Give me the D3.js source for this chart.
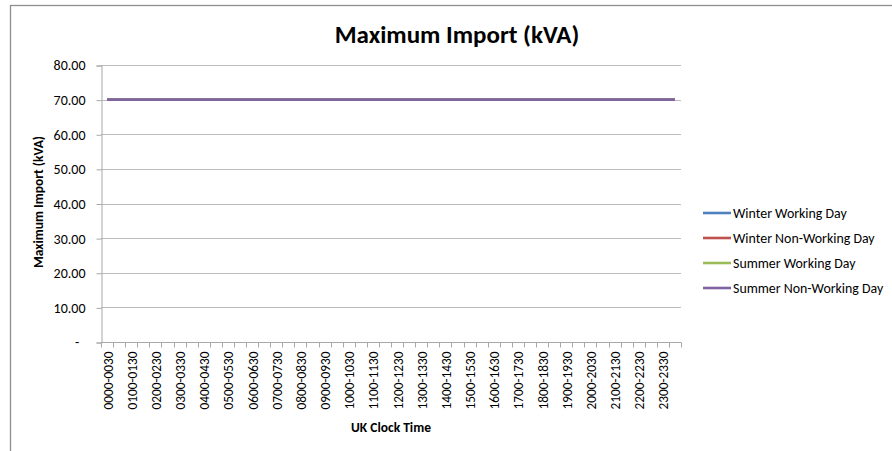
<!DOCTYPE html>
<meta charset="UTF-8">
<script src="https://d3js.org/d3.v7.min.js"></script>
<style>
  body { margin: 0; background: #fff; }
  text { font-family: Carlito, Calibri, Lato, sans-serif; fill: #000; }
</style>
<div id="my_dataviz"></div>
<script>

// half hour slots, Excel only prints every second one
var slots = ["0000-0030","0030-0100","0100-0130","0130-0200","0200-0230","0230-0300",
  "0300-0330","0330-0400","0400-0430","0430-0500","0500-0530","0530-0600",
  "0600-0630","0630-0700","0700-0730","0730-0800","0800-0830","0830-0900",
  "0900-0930","0930-1000","1000-1030","1030-1100","1100-1130","1130-1200",
  "1200-1230","1230-1300","1300-1330","1330-1400","1400-1430","1430-1500",
  "1500-1530","1530-1600","1600-1630","1630-1700","1700-1730","1730-1800",
  "1800-1830","1830-1900","1900-1930","1930-2000","2000-2030","2030-2100",
  "2100-2130","2130-2200","2200-2230","2230-2300","2300-2330","2330-0000"];

var winterWorking    = [70,70,70,70,70,70,70,70,70,70,70,70,70,70,70,70,70,70,70,70,70,70,70,70,70,70,70,70,70,70,70,70,70,70,70,70,70,70,70,70,70,70,70,70,70,70,70,70];
var winterNonWorking = [70,70,70,70,70,70,70,70,70,70,70,70,70,70,70,70,70,70,70,70,70,70,70,70,70,70,70,70,70,70,70,70,70,70,70,70,70,70,70,70,70,70,70,70,70,70,70,70];
var summerWorking    = [70,70,70,70,70,70,70,70,70,70,70,70,70,70,70,70,70,70,70,70,70,70,70,70,70,70,70,70,70,70,70,70,70,70,70,70,70,70,70,70,70,70,70,70,70,70,70,70];
var summerNonWorking = [70,70,70,70,70,70,70,70,70,70,70,70,70,70,70,70,70,70,70,70,70,70,70,70,70,70,70,70,70,70,70,70,70,70,70,70,70,70,70,70,70,70,70,70,70,70,70,70];

var seriesNames = ["Winter Working Day", "Winter Non-Working Day", "Summer Working Day", "Summer Non-Working Day"];
var yTicks = [0, 10, 20, 30, 40, 50, 60, 70, 80];

var series = [
  {name: seriesNames[0], values: winterWorking,    color: "#4F81BD"},
  {name: seriesNames[1], values: winterNonWorking, color: "#C0504D"},
  {name: seriesNames[2], values: summerWorking,    color: "#9BBB59"},
  {name: seriesNames[3], values: summerNonWorking, color: "#8064A2"}
];

var width = 892, height = 451;
var margin = {top: 65, right: 211, bottom: 109, left: 101};   // plot area 101..681 x 65..342

var svg = d3.select("#my_dataviz")
  .append("svg")
    .attr("width", width)
    .attr("height", height);

// chart frame (runs off the right / bottom of the picture)
svg.append("rect")
  .attr("x", 10.5).attr("y", 5.5)
  .attr("width", 1000).attr("height", 600)
  .attr("fill", "none")
  .attr("stroke", "#8e8e8e")
  .attr("stroke-width", 1.3);

var x = d3.scaleBand()
  .domain(slots)
  .range([margin.left, width - margin.right]);

var y = d3.scaleLinear()
  .domain([0, 80])
  .range([height - margin.bottom, margin.top]);

// gridlines
svg.append("g")
  .selectAll("line")
  .data(yTicks.filter(function(d) { return d > 0; }))
  .enter()
  .append("line")
    .attr("x1", margin.left).attr("x2", width - margin.right)
    .attr("y1", function(d) { return Math.round(y(d)) + 0.5; })
    .attr("y2", function(d) { return Math.round(y(d)) + 0.5; })
    .attr("stroke", "#bcbcbc");

// y axis
var yAxis = svg.append("g")
  .attr("transform", "translate(" + (margin.left + 0.5) + ",0.5)")
  .call(d3.axisLeft(y)
    .tickValues(yTicks)
    .tickSize(5)
    .tickPadding(11)
    .tickFormat(function(d) { return d === 0 ? "-  " : d3.format(".2f")(d); }));
yAxis.select(".domain").attr("stroke", "#a8a8a8");
yAxis.selectAll(".tick line").attr("stroke", "#a8a8a8");
yAxis.selectAll(".tick text")
  .style("font-size", "14px")
  .attr("fill", "#000")
  .style("white-space", "pre");

// x axis: ticks on every slot boundary, labels on every second slot
var xAxisG = svg.append("g")
  .attr("transform", "translate(0," + (Math.round(y(0)) + 0.5) + ")");
xAxisG.append("line")
  .attr("x1", margin.left).attr("x2", width - margin.right)
  .attr("stroke", "#a8a8a8");
xAxisG.selectAll(".tk")
  .data(slots.concat(["end"]))
  .enter()
  .append("line")
    .attr("class", "tk")
    .attr("x1", function(d, i) { return Math.round(i < slots.length ? x(d) : width - margin.right) + 0.5; })
    .attr("x2", function(d, i) { return Math.round(i < slots.length ? x(d) : width - margin.right) + 0.5; })
    .attr("y1", 0).attr("y2", 5)
    .attr("stroke", "#a8a8a8");
xAxisG.selectAll(".lbl")
  .data(slots.filter(function(d, i) { return i % 2 === 0; }))
  .enter()
  .append("text")
    .attr("class", "lbl")
    .attr("transform", function(d) { return "translate(" + (x(d) + x.bandwidth() / 2 + 5.5) + ",9) rotate(-90)"; })
    .attr("text-anchor", "end")
    .style("font-size", "13.3px")
    .text(function(d) { return d; });

// lines
var line = d3.line()
  .x(function(d, i) { return x(slots[i]) + x.bandwidth() / 2; })
  .y(function(d) { return y(d); });

svg.append("g")
  .selectAll("path")
  .data(series)
  .enter()
  .append("path")
    .attr("fill", "none")
    .attr("stroke", function(d) { return d.color; })
    .attr("stroke-width", 2.6)
    .attr("d", function(d) { return line(d.values); });

// titles
svg.append("text")
  .attr("x", 457).attr("y", 43)
  .attr("text-anchor", "middle")
  .style("font-size", "25px")
  .style("font-weight", "bold")
  .text("Maximum Import (kVA)");

svg.append("text")
  .attr("transform", "translate(43,202) rotate(-90)")
  .attr("text-anchor", "middle")
  .style("font-size", "13.5px")
  .style("font-weight", "bold")
  .text("Maximum Import (kVA)");

svg.append("text")
  .attr("x", 391).attr("y", 432)
  .attr("text-anchor", "middle")
  .style("font-size", "13.5px")
  .style("font-weight", "bold")
  .text("UK Clock Time");

// legend
var legend = svg.append("g")
  .selectAll("g")
  .data(series)
  .enter()
  .append("g")
    .attr("transform", function(d, i) { return "translate(703," + (213 + i * 25) + ")"; });
legend.append("line")
  .attr("x1", 0).attr("x2", 28)
  .attr("stroke", function(d) { return d.color; })
  .attr("stroke-width", 2.6);
legend.append("text")
  .attr("x", 30).attr("y", 5)
  .style("font-size", "13.9px")
  .text(function(d) { return d.name; });

</script>
